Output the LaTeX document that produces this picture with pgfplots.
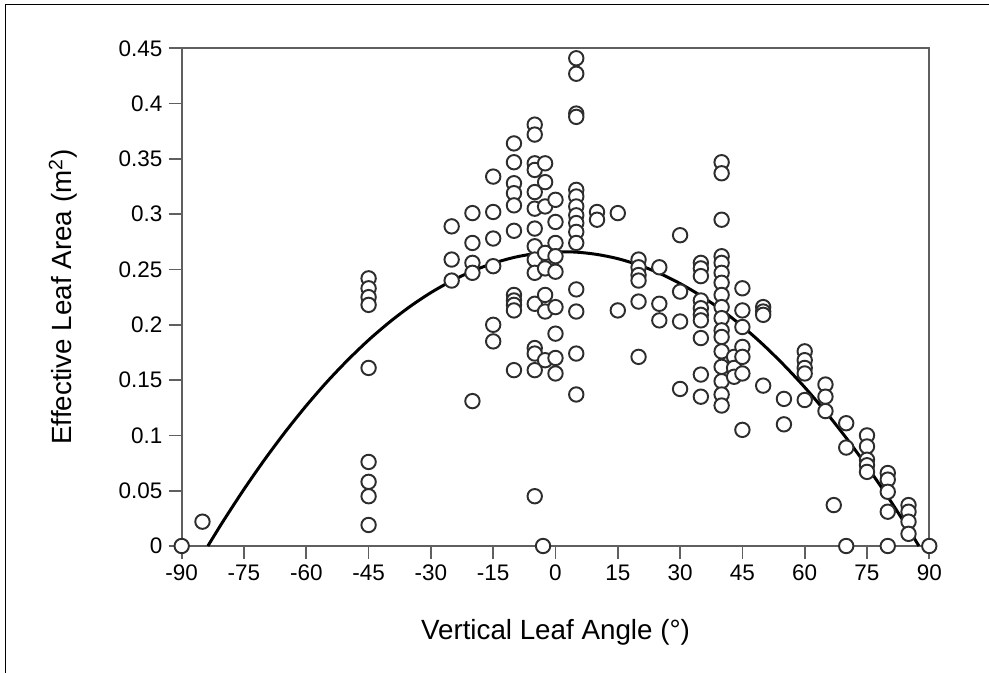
\documentclass[border=0pt]{standalone}
\usepackage{fontspec}
\setmainfont{Liberation Sans}
\usepackage{pgfplots}
\pgfplotsset{compat=1.18}

\definecolor{axisgray}{RGB}{95,95,95}
\definecolor{markgray}{RGB}{45,45,45}

\begin{document}
\begin{tikzpicture}
\begin{axis}[
    at={(0,0)}, anchor=south west,
    scale only axis,
    width=14.952cm, height=9.954cm,
    xmin=-90, xmax=90, ymin=0, ymax=0.45,
    xtick={-90,-75,-60,-45,-30,-15,0,15,30,45,60,75,90},
    xticklabels={-90,-75,-60,-45,-30,-15,0,15,30,45,60,75,90},
    ytick={0,0.05,0.1,0.15,0.2,0.25,0.3,0.35,0.4,0.45},
    yticklabels={0,0.05,0.1,0.15,0.2,0.25,0.3,0.35,0.4,0.45},
    xtick pos=bottom, ytick pos=left,
    tick align=outside,
    major tick length=0.26cm,
    tick style={axisgray, line width=1pt},
    axis line style={axisgray, line width=1.1pt},
    ticklabel style={font=\fontsize{12.8}{15}\selectfont},
    xlabel={Vertical Leaf Angle (°)},
    ylabel={Effective Leaf Area (m\textsuperscript{2})},
    label style={font=\fontsize{15.8}{18}\selectfont},
    xlabel style={at={(axis description cs:0.5,-0.1728)}, anchor=center},
    ylabel style={at={(axis description cs:-0.1588,0.5)}, anchor=center},
    clip=false,
]
% fitted quadratic
\addplot[black, line width=1.7pt, smooth] coordinates {
(-83.7,0) (-80,0.0225) (-75,0.0513) (-70,0.0783) (-65,0.1035) (-60,0.1269)
(-55,0.1485) (-50,0.1682) (-45,0.1862) (-40,0.2023) (-35,0.2166) (-30,0.2291)
(-25,0.2397) (-20,0.2486) (-15,0.2556) (-10,0.2609) (-5,0.2643) (0,0.2659)
(5,0.2657) (10,0.2636) (15,0.2598) (20,0.2541) (25,0.2466) (30,0.2373)
(35,0.2262) (40,0.2133) (45,0.1986) (50,0.1820) (55,0.1636) (60,0.1435)
(65,0.1215) (70,0.0977) (75,0.0720) (80,0.0446) (85,0.0153) (87.5,0)
};
% observations
\addplot[only marks, mark=*, mark size=4.1pt,
         mark options={draw=markgray, fill=white, line width=1.1pt}] coordinates {
(-90,0) (-85,0.022)
(-45,0.242) (-45,0.233) (-45,0.225) (-45,0.218) (-45,0.161) (-45,0.076) (-45,0.058) (-45,0.045) (-45,0.019)
(-25,0.289) (-25,0.259) (-25,0.240)
(-20,0.301) (-20,0.274) (-20,0.256) (-20,0.247) (-20,0.131)
(-15,0.334) (-15,0.302) (-15,0.278) (-15,0.253) (-15,0.200) (-15,0.185)
(-10,0.364) (-10,0.347) (-10,0.328) (-10,0.319) (-10,0.308) (-10,0.285) (-10,0.227) (-10,0.222) (-10,0.218) (-10,0.213) (-10,0.159)
(-5,0.381) (-5,0.372) (-5,0.346) (-5,0.340) (-5,0.320) (-5,0.305) (-5,0.287) (-5,0.271) (-5,0.259) (-5,0.247) (-5,0.219) (-5,0.179) (-5,0.174) (-5,0.159) (-5,0.045)
(-2.5,0.346) (-2.5,0.329) (-2.5,0.307) (-2.5,0.265) (-2.5,0.251) (-2.5,0.227) (-2.5,0.212) (-2.5,0.168) (-3,0)
(0,0.313) (0,0.293) (0,0.274) (0,0.262) (0,0.248) (0,0.216) (0,0.192) (0,0.170) (0,0.156)
(5,0.441) (5,0.427) (5,0.391) (5,0.388) (5,0.322) (5,0.316) (5,0.307) (5,0.299) (5,0.292) (5,0.284) (5,0.274) (5,0.232) (5,0.212) (5,0.174) (5,0.137)
(10,0.302) (10,0.295)
(15,0.301) (15,0.213)
(20,0.259) (20,0.252) (20,0.245) (20,0.240) (20,0.221) (20,0.171)
(25,0.252) (25,0.219) (25,0.204)
(30,0.281) (30,0.230) (30,0.203) (30,0.142)
(35,0.256) (35,0.251) (35,0.244) (35,0.222) (35,0.215) (35,0.209) (35,0.204) (35,0.188) (35,0.155) (35,0.135)
(40,0.347) (40,0.337) (40,0.295) (40,0.262) (40,0.256) (40,0.247) (40,0.238) (40,0.227) (40,0.216) (40,0.206) (40,0.195) (40,0.189) (40,0.176) (40,0.162) (40,0.149) (40,0.137) (40,0.127)
(43,0.171) (43,0.161) (43,0.153)
(45,0.233) (45,0.213) (45,0.198) (45,0.180) (45,0.171) (45,0.156) (45,0.105)
(50,0.216) (50,0.212) (50,0.209) (50,0.145)
(55,0.133) (55,0.110)
(60,0.176) (60,0.168) (60,0.161) (60,0.156) (60,0.132)
(65,0.146) (65,0.135) (65,0.122)
(67,0.037)
(70,0.111) (70,0.089) (70,0)
(75,0.100) (75,0.090) (75,0.078) (75,0.073) (75,0.067)
(80,0.066) (80,0.060) (80,0.049) (80,0.031) (80,0)
(85,0.037) (85,0.031) (85,0.022) (85,0.011)
(90,0)
};
\end{axis}
% figure frame (top and left edges)
\draw[black, line width=0.035cm] (-3.524,-2.6) -- (-3.524,10.83) -- (16.2,10.83);
\pgfresetboundingbox
\path[use as bounding box] (-3.634,-2.54) rectangle (16.146,10.92);
\end{tikzpicture}
\end{document}
